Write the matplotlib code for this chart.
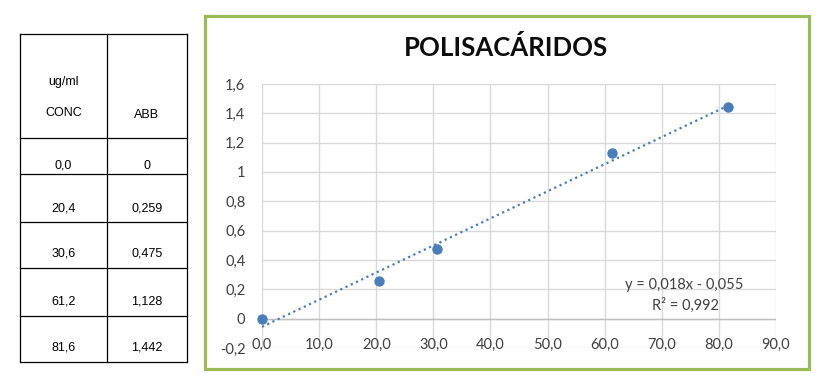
import numpy as np
import matplotlib
matplotlib.use("Agg")
import matplotlib.pyplot as plt
from matplotlib.lines import Line2D
from matplotlib.patches import Rectangle
import matplotlib.transforms as mtransforms

# ---- data ----
conc = [0.0, 20.4, 30.6, 61.2, 81.6]
abb = [0.0, 0.259, 0.475, 1.128, 1.442]
conc_labels = ["0,0", "20,4", "30,6", "61,2", "81,6"]
abb_labels = ["0", "0,259", "0,475", "1,128", "1,442"]
x_ticks = [0, 10, 20, 30, 40, 50, 60, 70, 80, 90]
x_tick_labels = ["0,0", "10,0", "20,0", "30,0", "40,0", "50,0", "60,0", "70,0", "80,0", "90,0"]
y_ticks = [-0.2, 0, 0.2, 0.4, 0.6, 0.8, 1.0, 1.2, 1.4, 1.6]
y_tick_labels = ["-0,2", "0", "0,2", "0,4", "0,6", "0,8", "1", "1,2", "1,4", "1,6"]
title = "POLISACÁRIDOS"
header_col1 = ["ug/ml", "CONC"]
header_col2 = "ABB"
equation_text = "y = 0,018x - 0,055"
r2_text = "R² = 0,992"

W, H = 834, 391
fig = plt.figure(figsize=(W / 100, H / 100), dpi=100)

def fx(px):
    return px / W

def fy(py):
    return 1 - py / H

blue = "#4A7EBB"
green = "#9BBB59"
txt = "#404040"
font_main = "Lato"
font_tab = "Liberation Sans"
fs = 10.5

# ---- chart frame ----
fig.add_artist(Rectangle((fx(204.5), fy(368.5)), fx(810 - 204.5 - 1.5), (368.5 - 15.5) / H,
                         transform=fig.transFigure, fill=False, edgecolor=green, linewidth=2.3))

# ---- axes ----
ax = fig.add_axes([fx(262), fy(348), fx(776 - 262), (348 - 84) / H])
ax.set_xlim(0, 90)
ax.set_ylim(-0.2, 1.6)
ax.set_xticks(x_ticks)
ax.set_yticks(y_ticks)
ax.grid(True, color="#D9D9D9", linewidth=1)
ax.set_axisbelow(True)
for s in ax.spines.values():
    s.set_visible(False)
ax.axhline(0, color="#BFBFBF", linewidth=1, zorder=1)
ax.tick_params(length=0)
ax.set_xticklabels([])
ax.set_yticklabels(y_tick_labels, fontsize=fs, family=font_main, color=txt)
ax.tick_params(axis="y", pad=12)
trans = mtransforms.blended_transform_factory(ax.transData, ax.transAxes)
for v, lab in zip(x_ticks, x_tick_labels):
    ax.text(v, 0.01, lab, transform=trans, ha="center", va="center",
            fontsize=fs, family=font_main, color=txt)

# trendline
slope, intercept = np.polyfit(conc, abb, 1)
xs = np.array([min(conc), max(conc)])
ax.plot(xs, slope * xs + intercept, linestyle=(0, (1, 1.6)), color=blue, linewidth=1.6, zorder=3)
ax.scatter(conc, abb, s=42, color=blue, zorder=4, clip_on=False)

fig.text(fx(684.5), fy(285), equation_text, ha="center", va="center", fontsize=fs, family=font_main, color=txt)
fig.text(fx(685), fy(305), r2_text, ha="center", va="center", fontsize=fs, family=font_main, color=txt)

# title
fig.text(fx(506), fy(47), title, ha="center", va="center", fontsize=18.5, fontweight="bold",
         family=font_main, color="#0D0D0D")

# ---- table ----
tl, tm, tr = 20, 107, 187
rows_y = [34, 138, 174, 222, 268, 316, 362]
for y in rows_y:
    fig.add_artist(Line2D([fx(tl), fx(tr)], [fy(y), fy(y)], color="black", linewidth=0.9))
for x in (tl, tm, tr):
    fig.add_artist(Line2D([fx(x), fx(x)], [fy(rows_y[0]), fy(rows_y[-1])], color="black", linewidth=0.9))
c1 = (tl + tm) / 2
c2 = (tm + tr) / 2
tfs = 9
fig.text(fx(c1), fy(82), header_col1[0], ha="center", va="center", fontsize=tfs, family=font_tab)
fig.text(fx(c1), fy(113), header_col1[1], ha="center", va="center", fontsize=tfs, family=font_tab)
fig.text(fx(c2), fy(115), header_col2, ha="center", va="center", fontsize=tfs, family=font_tab)
text_y = [166, 208, 254, 301, 348]
for i in range(len(conc_labels)):
    fig.text(fx(c1), fy(text_y[i]), conc_labels[i], ha="center", va="center", fontsize=tfs, family=font_tab)
    fig.text(fx(c2), fy(text_y[i]), abb_labels[i], ha="center", va="center", fontsize=tfs, family=font_tab)

fig.savefig("out.png", dpi=100)
